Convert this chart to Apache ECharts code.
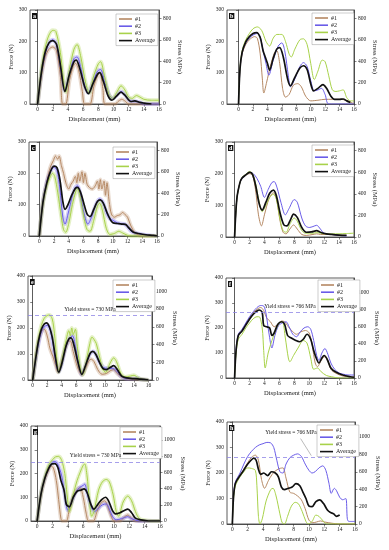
<!DOCTYPE html>
<html><head><meta charset="utf-8">
<script src="https://cdn.jsdelivr.net/npm/echarts@6/dist/echarts.min.js"></script>
<style>html,body{margin:0;padding:0;background:#fff}#c{width:389px;height:550px}</style>
</head><body><div id="c"></div>
<script>
// ---- tick labels / categories ----
const xTicks = [0, 2, 4, 6, 8, 10, 12, 14, 16];
const stressTicksTop = [0, 200, 400, 600, 800];
const stressTicksBottom = [0, 200, 400, 600, 800, 1000];
const seriesNames = ['#1', '#2', '#3', 'Average'];
const panelLetters = ['a', 'b', 'c', 'd', 'e', 'f', 'g', 'h'];
const forceMax = [300, 300, 300, 300, 400, 400, 400, 400];
const yieldStressMPa = [null, null, null, null, 730, 766, 730, 766];
const stressPerNewton = 2.93;

// ---- series values [displacement mm, force N] ----
const a1 = [[0,0],[0.5,90],[1,150],[1.5,175],[2,182],[2.5,170],[3,90],[3.3,0],[3.7,0],[4.2,75],[4.7,120],[5,130],[5.4,110],[5.9,40],[6.2,0],[6.9,0],[7.4,55],[7.9,90],[8.2,98],[8.6,50],[8.9,0],[10.2,0],[10.7,10],[11.1,15],[11.6,8],[12,0],[16,0]];
const a2 = [[0,0],[0.5,100],[1,160],[1.5,195],[2,205],[2.5,190],[3,120],[3.6,42],[4.2,100],[4.8,145],[5.2,150],[5.7,115],[6.2,60],[6.7,35],[7.3,70],[7.9,105],[8.3,110],[8.8,75],[9.4,30],[9.9,18],[10.5,30],[11,40],[11.5,30],[12.2,10],[13,8],[13.5,5],[14,0],[16,0]];
const a3 = [[0,0],[0.5,110],[1,180],[1.5,220],[2,235],[2.4,232],[3,165],[3.4,80],[3.7,38],[4.2,110],[4.8,175],[5.2,190],[5.7,150],[6.3,70],[6.8,35],[7.4,90],[8,128],[8.3,135],[8.8,90],[9.4,30],[9.9,18],[10.5,40],[11,58],[11.5,45],[12,22],[12.5,18],[13,27],[13.5,22],[14,15],[15,12],[16,12]];
const aAvg = [[0,0],[0.5,100],[1,165],[1.5,195],[2,202],[2.5,190],[3,125],[3.6,40],[4.2,95],[4.8,135],[5.1,140],[5.6,110],[6.2,55],[6.7,33],[7.3,65],[7.9,95],[8.2,100],[8.7,70],[9.3,25],[9.8,12],[10.4,25],[11,38],[11.5,28],[12.3,8],[12.8,10],[13.5,5],[14,3],[15,0]];

const b1 = [[0,0],[0.2,110],[0.5,160],[1,190],[1.5,205],[2.2,215],[2.6,210],[3,160],[3.3,80],[3.5,35],[3.9,70],[4.4,120],[5,165],[5.3,170],[5.7,130],[6.1,50],[6.5,22],[7,30],[7.6,60],[8.2,65],[8.7,55],[9.3,25],[10,10],[11,12],[12,15],[13,15],[14,15],[14.5,14],[15.2,10],[16,0]];
const b2 = [[0,0],[0.2,110],[0.5,165],[1,195],[1.5,210],[2,220],[2.6,225],[3,215],[3.4,170],[3.8,130],[4.2,92],[4.8,140],[5.5,185],[6,195],[6.4,170],[6.9,90],[7.2,55],[7.8,80],[8.5,120],[9,132],[9.5,120],[10,75],[10.5,42],[11,45],[11.5,50],[12,30],[12.5,0],[16,0]];
const b3 = [[0,0],[0.2,115],[0.5,170],[1,205],[1.5,225],[2,240],[2.6,246],[3.2,235],[3.8,200],[4.3,185],[4.8,210],[5.3,222],[6,222],[6.5,200],[7,160],[7.3,150],[7.8,175],[8.5,205],[9,208],[9.5,190],[10,130],[10.5,78],[11,105],[11.6,140],[12,135],[12.5,90],[13,45],[13.5,40],[14,42],[14.5,45],[15,20],[15.5,10],[16,10]];
const bAvg = [[0,0],[0.2,112],[0.5,165],[1,198],[1.5,215],[2,225],[2.5,228],[3,212],[3.4,170],[3.7,150],[4,130],[4.3,108],[4.8,145],[5.3,175],[5.7,180],[6.2,150],[6.8,80],[7.2,58],[7.8,85],[8.5,115],[9,122],[9.5,110],[10,65],[10.4,42],[11,50],[11.7,62],[12.2,50],[12.8,25],[13.3,15],[14,15],[14.5,16],[15,10],[15.5,5]];

const c1 = [[0,0],[0.5,110],[1,170],[1.5,220],[1.9,240],[2.2,255],[2.5,245],[2.7,255],[3,225],[3.3,200],[3.6,170],[4,150],[4.3,165],[4.6,175],[4.9,190],[5.1,170],[5.3,200],[5.5,175],[5.8,205],[6,170],[6.2,200],[6.5,165],[6.8,155],[7.2,150],[7.6,160],[7.9,175],[8.1,150],[8.3,180],[8.5,150],[8.8,175],[9,130],[9.2,170],[9.5,110],[9.8,70],[10.2,60],[10.6,65],[11,68],[11.3,75],[11.6,70],[12,60],[12.4,35],[13,10],[13.5,3],[14,0],[16,0]];
const c2 = [[0,0],[0.5,110],[1,170],[1.5,205],[2,220],[2.4,210],[2.8,150],[3.2,60],[3.5,38],[3.9,70],[4.4,120],[4.9,155],[5.2,160],[5.6,130],[6.1,70],[6.6,38],[7.1,60],[7.7,100],[8.2,118],[8.6,110],[9.2,70],[9.6,55],[10,50],[10.6,42],[11,40],[11.6,38],[12,30],[12.5,15],[13,10],[14,5],[15,2],[16,0]];
const c3 = [[0,0],[0.5,105],[1,160],[1.5,190],[1.8,200],[2.1,190],[2.5,140],[3,60],[3.3,20],[3.6,12],[4,40],[4.5,100],[5,145],[5.2,150],[5.6,120],[6.1,55],[6.5,20],[6.9,15],[7.4,50],[7.9,95],[8.2,105],[8.6,80],[9.1,25],[9.6,5],[10.2,8],[10.8,15],[11.3,10],[12,2],[12.5,0],[16,0]];
const cAvg = [[0,0],[0.5,108],[1,167],[1.5,205],[2,223],[2.4,218],[2.8,180],[3.2,110],[3.5,85],[3.9,100],[4.4,130],[4.9,152],[5.2,155],[5.6,140],[6.1,100],[6.5,70],[6.9,62],[7.4,85],[7.9,110],[8.3,115],[8.7,105],[9.2,75],[9.6,55],[10,42],[10.6,40],[11.2,38],[11.7,37],[12.2,25],[12.8,12],[13.5,8],[14.5,4],[15.5,2],[16,0]];

const d1 = [[0,0],[0.3,120],[0.7,170],[1,185],[1.5,195],[2,200],[2.4,195],[2.8,150],[3.2,70],[3.6,35],[4,70],[4.6,120],[5.2,140],[5.6,120],[6.1,50],[6.5,15],[6.9,10],[7.4,25],[7.9,38],[8.4,25],[9,8],[9.6,5],[10.5,8],[11,10],[11.5,8],[12.5,8],[13.5,7],[15,5]];
const d2 = [[0,0],[0.3,120],[0.7,170],[1,185],[1.5,195],[2,205],[2.5,200],[3,185],[3.5,160],[4,125],[4.5,150],[5,172],[5.3,175],[5.7,155],[6.2,110],[6.8,70],[7.3,90],[8,118],[8.4,110],[9,60],[9.5,35],[10,30],[10.5,33],[11,37],[11.5,25],[12,12],[13,8],[14,5],[15,3]];
const d3 = [[0,0],[0.3,120],[0.7,170],[1,188],[1.5,198],[2,207],[2.4,200],[2.8,170],[3.3,110],[3.7,80],[4.2,100],[4.7,125],[5.2,135],[5.6,120],[6.1,55],[6.5,20],[6.9,15],[7.4,40],[8,60],[8.4,50],[9,20],[9.5,12],[10.5,12],[11,14],[12,10],[13,10],[14,10],[15,11],[16,12]];
const dAvg = [[0,0],[0.3,120],[0.7,170],[1,186],[1.5,196],[2,204],[2.4,198],[2.8,165],[3.3,105],[3.7,85],[4.2,110],[4.7,138],[5.2,148],[5.6,130],[6.1,75],[6.6,38],[7,35],[7.5,55],[7.9,72],[8.4,62],[9,30],[9.6,15],[10.3,16],[11,20],[11.5,15],[12.3,10],[13,8],[14,6],[15,5]];

const e1 = [[0,0],[0.4,80],[0.8,150],[1.2,185],[1.6,195],[2,170],[2.4,120],[2.8,90],[3.2,55],[3.5,30],[3.9,60],[4.4,110],[4.9,148],[5.2,150],[5.6,110],[6.2,50],[6.8,20],[7.3,45],[7.8,75],[8.1,80],[8.5,70],[9,40],[9.6,22],[10.2,25],[10.7,35],[11.2,40],[11.7,25],[12.4,10],[13,5],[14,3],[15,2],[16,0]];
const e2 = [[0,0],[0.4,75],[0.8,140],[1.2,185],[1.6,205],[2,210],[2.4,195],[2.8,140],[3.2,70],[3.6,30],[4,60],[4.6,130],[5.1,160],[5.5,170],[5.9,130],[6.3,70],[6.8,20],[7.3,55],[7.9,100],[8.4,110],[8.8,95],[9.3,65],[9.8,48],[10.4,45],[11,45],[11.6,35],[12.2,15],[13,5],[14,5],[14.5,8],[15,2],[16,0]];
const e3 = [[0,0],[0.4,85],[0.8,160],[1.2,210],[1.6,238],[2,248],[2.3,250],[2.7,235],[3,180],[3.3,90],[3.6,30],[4,70],[4.6,150],[5,190],[5.2,170],[5.4,200],[5.6,175],[5.9,195],[6.2,120],[6.6,45],[6.9,20],[7.4,70],[7.9,140],[8.2,165],[8.5,155],[8.8,140],[9.2,95],[9.7,40],[10.1,30],[10.7,65],[11.2,85],[11.6,70],[12.2,25],[12.8,12],[13.5,15],[14,18],[14.5,10],[15,3],[16,0]];
const eAvg = [[0,0],[0.4,80],[0.8,150],[1.2,195],[1.6,215],[1.9,220],[2.3,205],[2.7,165],[3.1,95],[3.6,30],[4,60],[4.6,130],[5,158],[5.3,162],[5.7,135],[6.2,75],[6.8,22],[7.3,55],[7.9,100],[8.3,110],[8.7,100],[9.2,70],[9.7,45],[10.2,40],[10.7,48],[11.2,55],[11.7,40],[12.3,15],[13,8],[14,5],[15,3],[16,0]];

const f1 = [[0,0],[0.2,110],[0.5,170],[1,190],[1.5,215],[2,240],[2.5,260],[3,275],[3.5,282],[3.9,270],[4.3,240],[4.8,225],[5.3,205],[5.8,215],[6.3,228],[6.7,225],[7.2,205],[7.8,185],[8.3,175],[8.9,185],[9.5,190],[10,180],[10.4,130],[10.8,60],[11.1,45],[11.6,70],[12,85],[12.4,75],[12.9,35],[13.5,20],[14.5,8],[15.5,5],[16,3]];
const f2 = [[0,0],[0.2,115],[0.5,175],[1,195],[1.5,220],[2,245],[2.5,265],[3,282],[3.5,290],[3.9,288],[4.2,260],[4.6,180],[5,120],[5.4,170],[5.9,210],[6.4,220],[6.9,225],[7.3,205],[7.8,175],[8.3,165],[8.8,185],[9.3,200],[9.8,205],[10.2,195],[10.6,150],[11,90],[11.3,70],[11.7,100],[12.1,118],[12.5,95],[12.9,60],[13.4,35],[14,20],[14.6,15],[15.2,12],[16,12]];
const f3 = [[0,0],[0.2,100],[0.5,155],[1,175],[1.5,200],[2,220],[2.5,237],[3,245],[3.3,245],[3.7,200],[3.9,110],[4.1,40],[4.5,100],[5,150],[5.5,190],[6,220],[6.4,225],[6.8,160],[7.2,80],[7.4,65],[7.9,90],[8.5,120],[9.2,150],[9.7,140],[10.2,80],[10.6,35],[11.1,40],[11.6,25],[12.3,10],[13,5],[14,0],[16,0]];
const fAvg = [[0,0],[0.2,110],[0.5,170],[1,188],[1.5,212],[2,235],[2.5,255],[3,268],[3.3,272],[3.7,262],[3.9,210],[4.3,205],[4.7,200],[5,170],[5.3,180],[5.8,215],[6.3,225],[6.7,215],[7.1,170],[7.6,160],[8.2,150],[8.7,145],[9.2,155],[9.7,175],[10.2,155],[10.6,110],[11,75],[11.3,60],[11.7,80],[12,90],[12.4,75],[12.9,40],[13.5,25],[14.5,12],[15.5,5],[16,3]];

const g1 = [[0,0],[0.5,110],[1,175],[1.5,215],[1.8,230],[2.1,225],[2.5,170],[2.8,90],[3.1,10],[3.3,0],[3.8,0],[4.2,50],[4.8,110],[5.3,135],[5.6,140],[6,100],[6.4,30],[6.7,0],[7.3,0],[7.8,40],[8.3,75],[8.8,85],[9.2,60],[9.7,15],[10,0],[10.8,0],[11.3,15],[11.8,25],[12.2,15],[12.8,0],[16,0]];
const g2 = [[0,0],[0.5,115],[1,180],[1.5,225],[2,248],[2.4,250],[2.8,230],[3.2,190],[3.6,110],[4,45],[4.5,80],[5,120],[5.5,140],[6,150],[6.2,155],[6.5,120],[7,60],[7.5,40],[8,55],[8.5,68],[9,72],[9.4,50],[9.8,20],[10.3,5],[11,10],[11.8,18],[12.3,10],[13,2],[13.5,0],[16,0]];
const g3 = [[0,0],[0.5,115],[1,185],[1.5,235],[2,258],[2.4,270],[2.8,272],[3.2,255],[3.6,200],[3.9,110],[4.2,40],[4.7,110],[5.2,170],[5.6,205],[6,235],[6.2,240],[6.5,190],[6.8,90],[7.1,20],[7.4,40],[8,130],[8.5,165],[9,175],[9.4,165],[9.9,110],[10.3,40],[10.6,20],[11.2,80],[11.8,105],[12.3,85],[12.8,40],[13.3,10],[14,3],[15,0],[16,0]];
const gAvg = [[0,0],[0.5,113],[1,180],[1.5,222],[1.9,240],[2.3,242],[2.7,225],[3.1,170],[3.5,130],[3.8,70],[4.2,60],[4.7,100],[5.2,125],[5.7,130],[6.1,135],[6.5,120],[7,70],[7.4,50],[7.9,70],[8.4,90],[8.9,100],[9.3,85],[9.8,45],[10.2,30],[10.8,35],[11.4,45],[11.8,50],[12.3,35],[12.8,12],[13.5,5],[14.5,0],[16,0]];

const h1 = [[0,0],[0.15,110],[0.4,160],[1,190],[1.5,215],[2,240],[2.5,262],[3,270],[3.4,250],[3.8,175],[4.2,140],[4.7,170],[5.2,195],[5.7,210],[6.2,218],[6.6,220],[7,180],[7.5,125],[8,120],[8.5,110],[9,95],[9.5,60],[10,15],[10.5,5],[11,8],[11.5,12],[12,8],[13,3],[14,0],[16,0]];
const h2 = [[0,0],[0.15,110],[0.4,165],[1,200],[1.5,235],[2,265],[2.5,285],[3,300],[3.5,310],[4,315],[4.5,320],[5,318],[5.4,300],[5.8,250],[6.2,205],[6.6,200],[7,235],[7.5,260],[8,270],[8.5,275],[9,265],[9.5,235],[10,210],[10.4,200],[10.8,205],[11.3,220],[11.8,228],[12.2,210],[12.6,160],[12.9,120],[13.3,140],[13.6,130],[14,105],[14.4,95],[14.8,100],[15,20],[15.2,10],[16,10]];
const h3 = [[0,0],[0.15,100],[0.4,150],[1,185],[1.5,205],[2,220],[2.5,218],[3,210],[3.2,150],[3.4,30],[3.6,0],[3.9,20],[4.4,90],[5,135],[5.3,140],[5.7,110],[6.2,40],[6.5,5],[6.8,0],[7.2,30],[7.7,70],[8.2,85],[8.6,80],[9.1,50],[9.6,10],[9.9,0],[10.4,10],[10.9,35],[11.3,30],[11.9,10],[12.3,0],[16,0]];
const hAvg = [[0,0],[0.15,105],[0.4,160],[1,190],[1.5,212],[2,235],[2.5,252],[2.8,258],[3.1,250],[3.4,215],[3.7,195],[4.1,200],[4.6,190],[5.1,205],[5.6,200],[6,185],[6.4,145],[6.8,135],[7.3,140],[7.8,145],[8.3,158],[8.8,150],[9.2,125],[9.6,100],[10,70],[10.4,68],[10.9,88],[11.4,95],[11.9,80],[12.4,55],[12.8,45],[13.2,40],[13.6,30],[14,35]];

const panelData = [[a1,a2,a3,aAvg],[b1,b2,b3,bAvg],[c1,c2,c3,cAvg],[d1,d2,d3,dAvg],[e1,e2,e3,eAvg],[f1,f2,f3,fAvg],[g1,g2,g3,gAvg],[h1,h2,h3,hAvg]];

// ---- layout (pixels) & style ----
const layout = [
  {L:30, R:159, T:10, B:104, xMin:-1,   xMax:16,  lgL:116, lgT:14},
  {L:227,R:354, T:10, B:104, xMin:-1.6, xMax:16,  lgL:312, lgT:13},
  {L:29, R:157, T:142,B:236, xMin:-1.4, xMax:16,  lgL:113, lgT:147},
  {L:226,R:354, T:142,B:237, xMin:-1.15,xMax:16,  lgL:312, lgT:145},
  {L:28, R:152, T:276,B:380, xMin:-0.65,xMax:16.5,lgL:113, lgT:280},
  {L:226,R:354, T:278,B:378, xMin:-1.15,xMax:16,  lgL:318, lgT:280},
  {L:31, R:160, T:426,B:521, xMin:-0.8, xMax:16,  lgL:120, lgT:427},
  {L:227,R:355, T:422,B:524, xMin:-0.7, xMax:16,  lgL:317, lgT:425}
];
const colors = ['#b58863', '#6a5ce8', '#a8d24a', '#111111'];
const banded = [true, false, true, false, true, false, true, false];
const FONT = '"Liberation Serif", "DejaVu Serif", serif';
const txt = '#222';

const grid = [], xAxis = [], yAxis = [], series = [], legend = [], graphic = [];
layout.forEach((p, i) => {
  grid.push({left:p.L, top:p.T, width:p.R-p.L, height:p.B-p.T, show:true, borderColor:'#333', borderWidth:0.8, backgroundColor:'transparent'});
  xAxis.push({type:'value', gridIndex:i, min:p.xMin, max:p.xMax,
    axisLine:{show:true, onZero:false, lineStyle:{color:'#333', width:0.8}},
    axisTick:{show:true, length:2.5, customValues:xTicks, lineStyle:{color:'#333', width:0.6}},
    axisLabel:{customValues:xTicks, fontSize:5.5, margin:3, color:txt, fontFamily:FONT},
    splitLine:{show:false},
    name:'Displacement (mm)', nameLocation:'middle', nameGap:12,
    nameTextStyle:{fontSize:6.5, color:txt, fontFamily:FONT}});
  const fm = forceMax[i];
  const sMax = fm * stressPerNewton;
  const sTicks = fm === 300 ? stressTicksTop : stressTicksBottom;
  yAxis.push({type:'value', gridIndex:i, min:0, max:fm, interval:100, position:'left',
    axisLine:{show:true, lineStyle:{color:'#333', width:0.8}},
    axisTick:{show:true, length:2.5, lineStyle:{color:'#333', width:0.6}},
    axisLabel:{fontSize:5.5, margin:3, color:txt, fontFamily:FONT},
    splitLine:{show:false},
    name:'Force (N)', nameLocation:'middle', nameGap:14, nameRotate:90,
    nameTextStyle:{fontSize:6.5, color:txt, fontFamily:FONT}});
  yAxis.push({type:'value', gridIndex:i, min:0, max:sMax, position:'right',
    axisLine:{show:true, lineStyle:{color:'#333', width:0.8}},
    axisTick:{show:true, length:2.5, customValues:sTicks, lineStyle:{color:'#333', width:0.6}},
    axisLabel:{customValues:sTicks, fontSize:5.5, margin:4, color:txt, fontFamily:FONT, formatter:(v) => String(Math.round(v))},
    splitLine:{show:false},
    name:'Stress (MPa)', nameLocation:'middle', nameGap:17, nameRotate:-90,
    nameTextStyle:{fontSize:6.5, color:txt, fontFamily:FONT}});
  panelData[i].forEach((d, k) => {
    if (banded[i] && k < 3) {
      series.push({type:'line', name:seriesNames[k] + ' band', xAxisIndex:i, yAxisIndex:2*i, data:d,
        showSymbol:false, symbol:'none', smooth:0.3, silent:true, z:1,
        lineStyle:{color:colors[k], width:4, opacity:0.3}});
    }
  });
  panelData[i].forEach((d, k) => {
    const s = {type:'line', name:seriesNames[k], xAxisIndex:i, yAxisIndex:2*i, data:d,
      showSymbol:false, symbol:'none', smooth:0.3, z: k===3 ? 4 : 3,
      itemStyle:{color:colors[k]},
      lineStyle:{color:colors[k], width: k===3 ? 1.7 : 1}};
    if (k === 3 && yieldStressMPa[i]) {
      const isH = i === 7;
      const mlData = [{yAxis: yieldStressMPa[i] / stressPerNewton,
        label:{show:true, formatter:'Yield stress = ' + yieldStressMPa[i] + ' MPa', position:'insideMiddleTop',
          distance: isH ? 22 : 3, fontSize:5.5, color:txt, fontFamily:FONT}}];
      s.markLine = {silent:true, symbol:['none','none'], animation:false,
        lineStyle:{type:[4,3], color:'#8f86e6', width:0.8}, data:mlData};
      if (isH) {
        s.markLine.data.push([{coord:[8.9, 335], lineStyle:{type:'solid', color:'#777', width:0.5}, label:{show:false}},
                              {coord:[10.3, 268]}]);
      }
    }
    series.push(s);
  });
  legend.push({data:seriesNames, left:p.lgL, top:p.lgT, orient:'vertical', icon:'rect',
    itemWidth:13, itemHeight:1.6, itemGap:1.2, padding:[2,3,2,3],
    borderColor:'#999', borderWidth:0.5, backgroundColor:'#fff',
    selectedMode:false,
    textStyle:{fontSize:6, color:txt, fontFamily:FONT, padding:[0,0,0,-2]}});
  graphic.push({type:'text', left:p.L + 2, top:p.T + 3, z:100,
    style:{text:panelLetters[i], fill:'#fff', backgroundColor:'#111', font:'bold 6px ' + FONT, padding:[0,1,0,1]}});
});

const chart = echarts.init(document.getElementById('c'), null, {renderer:'canvas'});
chart.setOption({animation:false, backgroundColor:'#fff', grid, xAxis, yAxis, series, legend, graphic});
</script></body></html>
